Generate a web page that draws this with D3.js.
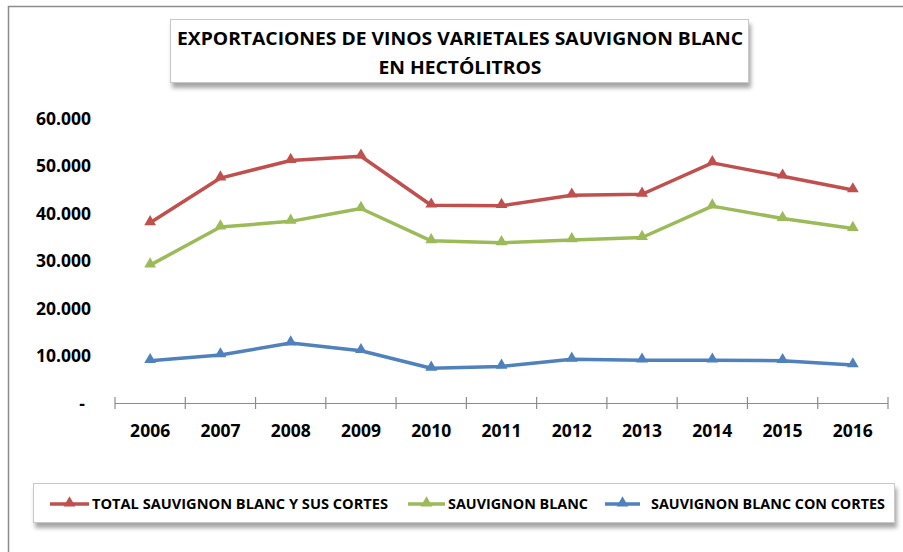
<!DOCTYPE html>
<html>
<head>
<meta charset="utf-8">
<script src="https://cdn.jsdelivr.net/npm/d3@7"></script>
<style>
  html, body { margin: 0; padding: 0; background: #fff; }
  svg { display: block; }
  text { font-family: "Open Sans", "DejaVu Sans Condensed", sans-serif; fill: #000; }
</style>
</head>
<body>
<svg id="chart" width="903" height="552"></svg>
<script>
// ---- data ----
const years = ["2006","2007","2008","2009","2010","2011","2012","2013","2014","2015","2016"];
const totalSB   = [37900, 47300, 51000, 51900, 41600, 41500, 43700, 43900, 50500, 47700, 44800];
const sauvBlanc = [29000, 37000, 38200, 40900, 34100, 33700, 34300, 34800, 41400, 38800, 36700];
const sbCortes  = [8900, 10100, 12600, 11000, 7300, 7700, 9200, 9000, 9000, 8900, 8000];
const yTicks = [0, 10000, 20000, 30000, 40000, 50000, 60000];
const seriesNames = ["TOTAL SAUVIGNON BLANC Y SUS CORTES", "SAUVIGNON BLANC", "SAUVIGNON BLANC CON CORTES"];
const titleLines = ["EXPORTACIONES DE VINOS VARIETALES SAUVIGNON BLANC", "EN HECTÓLITROS"];

const colors = ["#C0504D", "#9BBB59", "#4F81BD"];
const series = [totalSB, sauvBlanc, sbCortes].map((v, i) => ({name: seriesNames[i], values: v, color: colors[i]}));

const svg = d3.select("#chart");

// filter for box shadows
const defs = svg.append("defs");
const f = defs.append("filter").attr("id", "shadow").attr("x", "-5%").attr("y", "-20%").attr("width", "115%").attr("height", "160%");
f.append("feDropShadow").attr("dx", 2).attr("dy", 5).attr("stdDeviation", 2.2)
  .attr("flood-color", "#000").attr("flood-opacity", 0.35);

// outer chart border
svg.append("rect").attr("x", 8.5).attr("y", 6.5).attr("width", 920).attr("height", 600)
  .attr("fill", "#fff").attr("stroke", "#8c8c8c").attr("stroke-width", 1.5);

// scales
const x = d3.scaleBand().domain(years).range([115, 888]);
const y = d3.scaleLinear().domain([0, 60000]).range([403, 117.7]);

const loc = d3.formatLocale({decimal: ",", thousands: ".", grouping: [3], currency: ["", ""]});
const fmt = loc.format(",d");

// y axis (labels only)
const yAxis = d3.axisLeft(y).tickValues(yTicks).tickSize(0).tickPadding(0)
  .tickFormat(d => d === 0 ? "-" : fmt(d));
const gy = svg.append("g").attr("transform", "translate(91,0)").call(yAxis);
gy.select(".domain").remove();
gy.selectAll("text").attr("font-size", 17.5).attr("font-weight", 700)
  .attr("font-family", "'Open Sans', sans-serif").attr("fill", "#000").attr("dy", "0.36em")
  .attr("x", d => d === 0 ? -6 : 0);

// x axis
const xAxis = d3.axisBottom(x).tickSize(0).tickPadding(0);
const gx = svg.append("g").attr("transform", "translate(0,403)").call(xAxis);
gx.select(".domain").attr("stroke", "#8c8c8c").attr("stroke-width", 1.2).attr("d", `M${x.range()[0]},0.5H${x.range()[1]}`);
gx.selectAll("text").attr("font-size", 17.5).attr("font-weight", 700)
  .attr("font-family", "'Open Sans', sans-serif").attr("fill", "#000").attr("y", 34).attr("dy", 0);
const edges = years.map(d => x(d)).concat([x.range()[1]]);
gx.selectAll("line.edge").data(edges).enter().append("line").attr("class", "edge")
  .attr("x1", d => d).attr("x2", d => d).attr("y1", -6).attr("y2", 6)
  .attr("stroke", "#8c8c8c").attr("stroke-width", 1.2);

// lines
const line = d3.line().x((d, i) => x(years[i]) + x.bandwidth() / 2).y(d => y(d));
const tri = d3.symbol().type(d3.symbolTriangle).size(60);
series.forEach(s => {
  const g = svg.append("g");
  g.append("path").datum(s.values).attr("d", line).attr("fill", "none")
    .attr("stroke", s.color).attr("stroke-width", 3.5).attr("stroke-linejoin", "round");
  g.selectAll("path.m").data(s.values).enter().append("path").attr("class", "m")
    .attr("d", tri).attr("fill", s.color)
    .attr("transform", (d, i) => `translate(${x(years[i]) + x.bandwidth() / 2},${y(d) - 1})`);
});

// title box
svg.append("rect").attr("x", 170.5).attr("y", 19.5).attr("width", 578).attr("height", 63)
  .attr("fill", "#fff").attr("stroke", "#c8c8c8").attr("stroke-width", 1).attr("filter", "url(#shadow)");
const t1 = svg.append("text").attr("x", 460).attr("y", 45).attr("text-anchor", "middle")
  .attr("font-size", 18.5).attr("font-weight", 700).text(titleLines[0]);
const nat1 = t1.node().getComputedTextLength();
const ratio = 566 / nat1;
t1.attr("textLength", 566).attr("lengthAdjust", "spacingAndGlyphs");
const t2 = svg.append("text").attr("x", 460).attr("y", 74).attr("text-anchor", "middle")
  .attr("font-size", 18.5).attr("font-weight", 700).text(titleLines[1]);
const nat2 = t2.node().getComputedTextLength();
t2.attr("textLength", nat2 * ratio).attr("lengthAdjust", "spacingAndGlyphs");

// legend box
svg.append("rect").attr("x", 33.5).attr("y", 483.5).attr("width", 861).attr("height", 39)
  .attr("fill", "#fff").attr("stroke", "#c8c8c8").attr("stroke-width", 1).attr("filter", "url(#shadow)");
const legendItems = [
  {lx1: 50, lx2: 89, tx: 92, tw: 296},
  {lx1: 408, lx2: 445, tx: 448, tw: 140},
  {lx1: 605, lx2: 640, tx: 651, tw: 234}
];
const ly = 504;
series.forEach((s, i) => {
  const it = legendItems[i];
  const g = svg.append("g");
  g.append("line").attr("x1", it.lx1).attr("x2", it.lx2).attr("y1", ly).attr("y2", ly)
    .attr("stroke", s.color).attr("stroke-width", 3.5);
  g.append("path").attr("d", tri).attr("fill", s.color)
    .attr("transform", `translate(${(it.lx1 + it.lx2) / 2},${ly - 1})`);
  g.append("text").attr("x", it.tx).attr("y", 509).attr("font-size", 14).attr("font-weight", 700)
    .attr("textLength", it.tw).attr("lengthAdjust", "spacingAndGlyphs").text(s.name);
});
</script>
</body>
</html>
